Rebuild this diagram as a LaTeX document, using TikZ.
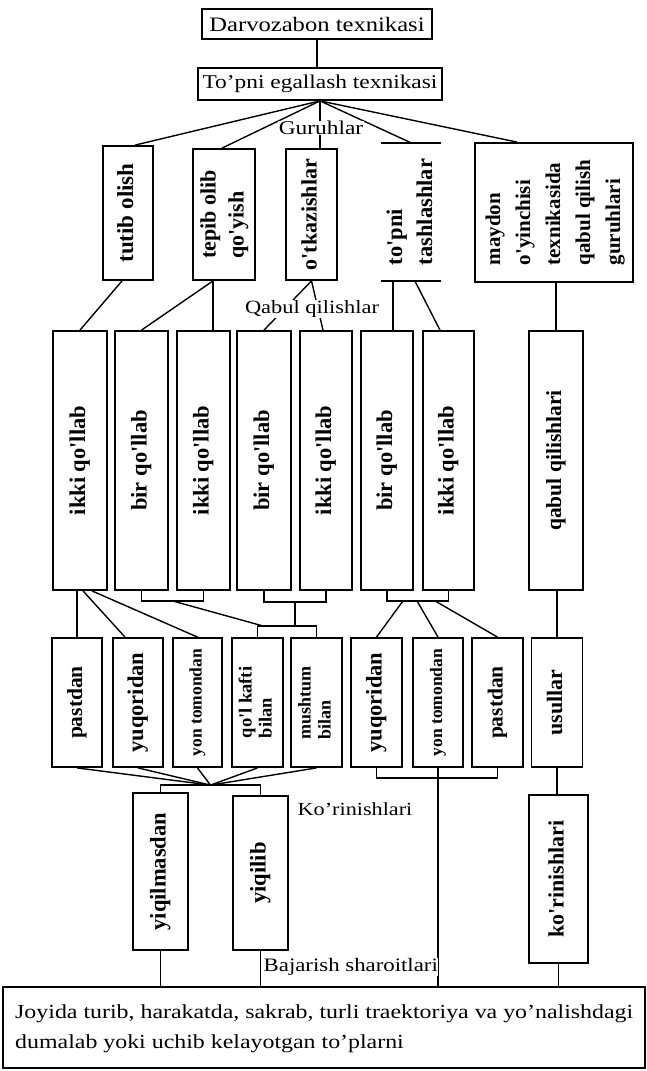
\documentclass[tikz,border=0pt]{standalone}
\usepackage{fontspec}
\setmainfont{Liberation Serif}[FakeStretch=1.2]
\newfontfamily\bxf{Liberation Serif}
\usetikzlibrary{calc}
\newcommand{\fsz}[2]{\fontsize{#1}{#2}\selectfont}
\newcommand{\vtxt}[3]{\rotatebox{90}{\bxf\bfseries\fsz{#1}{#2}\begin{tabular}{@{}l@{}}#3\end{tabular}}}
\begin{document}
\begin{tikzpicture}[x=1pt,y=-1pt,
  bx/.style={draw, line width=1.8pt, inner sep=0pt, align=center},
  sz/.style 2 args={minimum width=#1pt, minimum height=#2pt},
  ln/.style={line width=1.4pt},
  lab/.style={fill=white, inner sep=0.5pt}]
\useasboundingbox (0,0) rectangle (647,1071);

% top
\node[bx,sz={230}{30},font=\fsz{20.5}{24}] (dar) at (317,24) {Darvozabon texnikasi};
\node[bx,sz={244}{32},font=\fsz{19.5}{24}] (teg) at (320,84) {To'pni egallash texnikasi};

% groups
\node[bx,sz={50}{134}] (tut) at (128,213) {\vtxt{23}{26}{tutib olish}};
\node[bx,sz={62}{131}] (tep) at (224,214.5) {\vtxt{22}{28}{tepib olib\\qo'yish}};
\node[bx,sz={51}{131}] (otk) at (311.5,214.5) {\vtxt{22}{26}{o'tkazishlar}};
\node[inner sep=0pt,sz={58}{138}] (tash) at (411,212) {\vtxt{22.5}{30}{to'pni\\tashlashlar}};
\node[bx,sz={158}{139}] (may) at (554,212.5) {\vtxt{21}{30}{maydon\\o'yinchisi\\texnikasida\\qabul qilish\\guruhlari}};
\draw[line width=1.8pt] (tash.north west) -- (tash.north east);
\draw[line width=1.8pt] (tash.south west) -- (tash.south east);

% middle row
\node[bx,sz={54}{259}] (A) at (80,460.5) {\vtxt{22.5}{26}{ikki qo'llab}};
\node[bx,sz={53}{259}] (B) at (141.5,460.5) {\vtxt{22.5}{26}{bir qo'llab}};
\node[bx,sz={53}{259}] (C) at (203.5,460.5) {\vtxt{22.5}{26}{ikki qo'llab}};
\node[bx,sz={54}{259}] (D) at (264,460.5) {\vtxt{22.5}{26}{bir qo'llab}};
\node[bx,sz={52}{259}] (E) at (326,460.5) {\vtxt{22.5}{26}{ikki qo'llab}};
\node[bx,sz={52}{259}] (F) at (387,460.5) {\vtxt{22.5}{26}{bir qo'llab}};
\node[bx,sz={51}{259}] (G) at (448.5,460.5) {\vtxt{22.5}{26}{ikki qo'llab}};
\node[bx,sz={54}{259}] (H) at (556,460.5) {\vtxt{21.5}{26}{qabul qilishlari}};

% lower row
\node[bx,sz={50}{129}] (p1) at (77,702.5) {\vtxt{21.5}{26}{pastdan}};
\node[bx,sz={50}{129}] (y1) at (138,702.5) {\vtxt{22.5}{26}{yuqoridan}};
\node[bx,sz={49}{129}] (t1) at (197.5,702.5) {\vtxt{17.5}{20}{yon tomondan}};
\node[bx,sz={51}{129}] (k1) at (257.5,702.5) {\vtxt{18.5}{20}{qo'l kafti\\bilan}};
\node[bx,sz={51}{129}] (m1) at (316.5,702.5) {\vtxt{18}{20}{mushtum\\bilan}};
\node[bx,sz={51}{129}] (y2) at (376.5,702.5) {\vtxt{22.5}{26}{yuqoridan}};
\node[bx,sz={50}{129}] (t2) at (438,702.5) {\vtxt{17.5}{20}{yon tomondan}};
\node[bx,sz={51}{129}] (p2) at (497.5,702.5) {\vtxt{21.5}{26}{pastdan}};
\node[bx,sz={51}{129}] (us) at (557,702.5) {\vtxt{22}{26}{usullar}};

% bottom boxes
\node[bx,sz={55}{157}] (yq1) at (160.5,871.5) {\vtxt{22.5}{26}{yiqilmasdan}};
\node[bx,sz={55}{154}] (yq2) at (260.5,873) {\vtxt{22.5}{26}{yiqilib}};
\node[bx,sz={59}{168}] (kor) at (558.5,879) {\vtxt{22}{26}{ko'rinishlari}};
\node[bx,sz={642}{81}] (big) at (324,1027.5) {};
\node[anchor=west, align=left, inner sep=0pt, font=\fsz{19.9}{30}] (bt) at (15,1029)
  {Joyida turib, harakatda, sakrab, turli traektoriya va yo'nalishdagi\\dumalab yoki uchib kelayotgan to'plarni};

% connectors: top
\draw[ln] (dar.south) -- (dar.south |- teg.north);
\draw[ln] (teg.south) -- ([xshift=7pt]tut.north);
\draw[ln] (teg.south) -- ([xshift=-2pt]tep.north);
\draw[ln] (teg.south) -- (teg.south |- otk.north);
\draw[ln] (teg.south) -- (tash.north);
\draw[ln] (teg.south) -- ([xshift=-37pt]may.north);

% groups -> middle row
\draw[ln] ([xshift=-6pt]tut.south) -- (A.north);
\draw[ln] ([xshift=-11pt]tep.south) -- (B.north);
\draw[ln] ([xshift=-11pt]tep.south) -- ([xshift=9.5pt]C.north);
\draw[ln] (otk.south) -- (D.north);
\draw[ln] (otk.south) -- ([xshift=-3pt]E.north);
\draw[ln] ([xshift=-18pt]tash.south) -- ([xshift=6pt]F.north);
\draw[ln] ([xshift=4pt]tash.south) -- ([xshift=-8.5pt]G.north);
\draw[ln] (H.north |- may.south) -- (H.north);

% middle row -> lower row
\draw[ln] ([xshift=-3pt]A.south) -- (p1.north);
\draw[ln] ([xshift=3pt]A.south) -- ([xshift=-13pt]y1.north);
\draw[ln] ([xshift=12pt]A.south) -- (t1.north);
\draw[ln] (B.south) -- ++(0,10) coordinate (b1) -| (C.south);
\coordinate (bc) at ($(b1)!0.5!(b1 -| C.south)$);
\draw[ln] (D.south) -- ++(0,11) coordinate (d1) -| (E.south);
\coordinate (de) at ($(d1)!0.5!(d1 -| E.south)$);
\draw[ln] (k1.north) -- ++(0,-11) coordinate (k1t) -| (m1.north);
\draw[ln] (de) -- (de |- k1t);
\draw[ln] (bc) -- ([xshift=6pt]k1t);
\draw[ln] (F.south) -- ++(0,10) coordinate (f1) -| (G.south);
\draw[ln] ([xshift=16pt]f1) -- (y2.north);
\draw[ln] ([xshift=30pt]f1) -- (t2.north);
\draw[ln] ([xshift=48pt]f1) -- (p2.north);
\draw[ln] (us.north |- H.south) -- (us.north);

% lower row -> bottom
\draw[ln] (yq1.north) -- ++(0,-7) coordinate (yb) -| (yq2.north);
\coordinate (cv) at ($(yb)!0.5!(yb -| yq2.north)$);
\foreach \n in {p1,y1,t1,k1,m1} \draw[ln] (\n.south) -- (cv);
\draw[ln] (y2.south) -- ++(0,10) -| (p2.south);
\draw[ln] (t2.south) -- (t2.south |- big.north);
\draw[ln] (us.south) -- (us.south |- kor.north);
\draw[ln] (kor.south) -- (kor.south |- big.north);
\draw[ln] (yq1.south) -- (yq1.south |- big.north);
\draw[ln] (yq2.south) -- (yq2.south |- big.north);

% labels
\node[lab,font=\fsz{19.5}{22}] (gur) at (321,128) {Guruhlar};
\node[lab,font=\fsz{18.7}{22}] (qab) at (312,309) {Qabul qilishlar};
\node[lab,font=\fsz{18.5}{22}] (kori) at (355,809) {Ko'rinishlari};
\node[lab,anchor=west,font=\fsz{19}{22}] (baj) at (263,967) {Bajarish sharoitlari};
\end{tikzpicture}
\end{document}
